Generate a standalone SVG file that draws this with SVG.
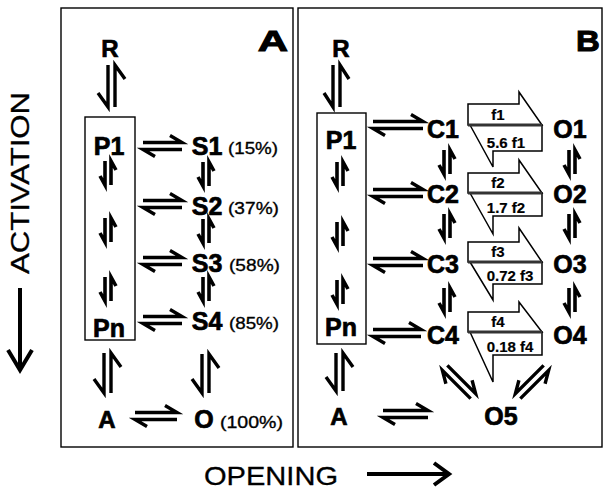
<svg xmlns="http://www.w3.org/2000/svg" width="604" height="493" viewBox="0 0 604 493">
<style>
text{font-family:"Liberation Sans",Arial,Helvetica,sans-serif;fill:#000}
.n{font-weight:bold;font-size:25px;text-anchor:middle;stroke:#000;stroke-width:0.7}
.r{font-weight:bold;font-size:24px;text-anchor:middle;stroke:#000;stroke-width:0.7}
.pct{font-size:17px;stroke:#000;stroke-width:0.35}
.lbl{font-weight:bold;font-size:30px;text-anchor:middle;stroke:#000;stroke-width:1}
.ax{font-size:26px;stroke:#000;stroke-width:0.3}
.rate{font-weight:bold;font-size:15px;text-anchor:middle;stroke:#000;stroke-width:0.2}
.frame{fill:none;stroke:#000;stroke-width:1.4}
.h{fill:none;stroke:#000;stroke-width:3.4}
.hs{fill:none;stroke:#000;stroke-width:3.6}
.blk{fill:#fff;stroke:#000;stroke-width:1.5;stroke-linejoin:miter}
.mid{fill:none;stroke:#333;stroke-width:3}
.ar{fill:none;stroke:#000;stroke-width:4}
</style>
<rect width="604" height="493" fill="#fff"/>

<g id="frames">
<rect class="frame" x="61" y="8" width="232" height="439"/>
<rect class="frame" x="298" y="8" width="304" height="439"/>
<text class="lbl" transform="translate(273 51) scale(1.4 1)">A</text>
<text class="lbl" transform="translate(588 51) scale(1.1 1)">B</text>
</g>

<g id="axes">
<text class="ax" transform="translate(29 274) rotate(-90)" textLength="182" lengthAdjust="spacingAndGlyphs">ACTIVATION</text>
<path class="ar" d="M20 288V369M8 350L20 370L32 350"/>
<text class="ax" x="204" y="485" textLength="134" lengthAdjust="spacingAndGlyphs">OPENING</text>
<path class="ar" d="M367 474H448M434 463L449 474L434 485"/>
</g>

<!-- Panel A nodes -->
<g id="A-R"><text class="r" x="110" y="57">R</text></g>
<g id="A-P">
<rect class="frame" x="85" y="117" width="50" height="223"/>
<text class="n" x="109" y="155">P1</text>
<text class="n" x="109" y="337">Pn</text>
</g>
<g id="A-S1"><text class="n" x="207" y="155">S1</text><text class="pct" x="228" y="154" textLength="50" lengthAdjust="spacingAndGlyphs">(15%)</text></g>
<g id="A-S2"><text class="n" x="207" y="215">S2</text><text class="pct" x="228" y="214" textLength="51" lengthAdjust="spacingAndGlyphs">(37%)</text></g>
<g id="A-S3"><text class="n" x="207" y="272">S3</text><text class="pct" x="229" y="271" textLength="51" lengthAdjust="spacingAndGlyphs">(58%)</text></g>
<g id="A-S4"><text class="n" x="207" y="330">S4</text><text class="pct" x="229" y="329" textLength="50" lengthAdjust="spacingAndGlyphs">(85%)</text></g>
<g id="A-A"><text class="r" x="107" y="428">A</text></g>
<g id="A-O"><text class="n" x="204" y="428">O</text><text class="pct" x="220" y="428" textLength="63" lengthAdjust="spacingAndGlyphs">(100%)</text></g>

<!-- Panel B nodes -->
<g id="B-R"><text class="r" x="341" y="57">R</text></g>
<g id="B-P">
<rect class="frame" x="317" y="113" width="49" height="231"/>
<text class="n" x="341" y="149">P1</text>
<text class="n" x="341" y="336">Pn</text>
</g>
<g id="B-C1"><text class="n" x="443" y="138">C1</text></g>
<g id="B-C2"><text class="n" x="443" y="203">C2</text></g>
<g id="B-C3"><text class="n" x="443" y="273">C3</text></g>
<g id="B-C4"><text class="n" x="443" y="344">C4</text></g>
<g id="B-O1"><text class="n" x="570" y="138">O1</text></g>
<g id="B-O2"><text class="n" x="570" y="203">O2</text></g>
<g id="B-O3"><text class="n" x="570" y="273">O3</text></g>
<g id="B-O4"><text class="n" x="570" y="344">O4</text></g>
<g id="B-A"><text class="r" x="339" y="425">A</text></g>
<g id="B-O5"><text class="n" x="501" y="425">O5</text></g>

<g id="connectors">
<!-- Panel A -->
<path class="h" d="M108 65V107L98 93M115 107V65L125 79"/>
<path class="h" d="M143 142.5H182L170 135.5M182 149.5H143L155 156.5"/>
<path class="h" d="M143 200.5H182L170 193.5M182 207.5H143L155 214.5"/>
<path class="h" d="M143 257.5H182L170 250.5M182 264.5H143L155 271.5"/>
<path class="h" d="M143 316.5H182L170 309.5M182 323.5H143L155 330.5"/>
<path class="hs" d="M105 161V185L100 176M111 185V161L116 170"/>
<path class="hs" d="M105 218V242L100 233M111 242V218L116 227"/>
<path class="hs" d="M105 277V301L100 292M111 301V277L116 286"/>
<path class="hs" d="M203 162V186L198 177M209 186V162L214 171"/>
<path class="hs" d="M203 219V243L198 234M209 243V219L214 228"/>
<path class="hs" d="M203 277V301L198 292M209 301V277L214 286"/>
<path class="h" d="M104 353V393L94 379M111 393V353L121 367"/>
<path class="h" d="M202 354V393L192 379M209 393V354L219 368"/>
<path class="h" d="M135 412.5H177L165 405.5M177 419.5H135L147 426.5"/>

<!-- Panel B -->
<path class="h" d="M333 65V107L324 93M340 107V65L349 79"/>
<path class="h" d="M373 121.5H423L411 114.5M423 128.5H373L385 135.5"/>
<path class="h" d="M373 189.5H423L411 182.5M423 196.5H373L385 203.5"/>
<path class="h" d="M373 258.5H423L411 251.5M423 265.5H373L385 272.5"/>
<path class="h" d="M373 329.5H421L409 322.5M421 336.5H373L385 343.5"/>
<path class="hs" d="M337 162V186L332 177M343 186V162L348 171"/>
<path class="hs" d="M337 222V246L332 237M343 246V222L348 231"/>
<path class="hs" d="M337 280V304L332 295M343 304V280L348 289"/>
<path class="hs" d="M444 150V174L439 165M450 174V150L455 159"/>
<path class="hs" d="M444 214V238L439 229M450 238V214L455 223"/>
<path class="hs" d="M444 288V312L439 303M450 312V288L455 297"/>
<path class="hs" d="M569 150V174L564 165M575 174V150L580 159"/>
<path class="hs" d="M569 214V238L564 229M575 238V214L580 223"/>
<path class="hs" d="M569 288V312L564 303M575 312V288L580 297"/>
<path class="h" d="M336 353V391L326 377M343 391V353L353 367"/>
<path class="h" d="M383 410.5H428L416 403.5M428 417.5H383L395 424.5"/>
<path class="h" transform="translate(459 382) rotate(45)" d="M-20 -3.5H20L8 -10.5M20 3.5H-20L-8 10.5"/>
<path class="h" transform="translate(532 382) scale(-1 1) rotate(45)" d="M-20 -3.5H20L8 -10.5M20 3.5H-20L-8 10.5"/>

<!-- rate arrows -->
<g id="k1">
<path class="blk" d="M468 125V104H519V92L542 125Z"/>
<path class="blk" d="M470 125L493 167V151H542V125Z"/>
<path class="mid" d="M468 125H542"/>
<text class="rate" x="498" y="120">f1</text>
<text class="rate" x="506" y="148">5.6 f1</text>
</g>
<g id="k2">
<path class="blk" d="M468 193V173H519V160L542 193Z"/>
<path class="blk" d="M470 193L493 234V216H542V193Z"/>
<path class="mid" d="M468 193H542"/>
<text class="rate" x="498" y="188">f2</text>
<text class="rate" x="506" y="213">1.7 f2</text>
</g>
<g id="k3">
<path class="blk" d="M468 262V242H519V228L542 262Z"/>
<path class="blk" d="M470 262L493 300V284H542V262Z"/>
<path class="mid" d="M468 262H542"/>
<text class="rate" x="498" y="257">f3</text>
<text class="rate" x="510" y="281">0.72 f3</text>
</g>
<g id="k4">
<path class="blk" d="M468 332V312H519V302L542 332Z"/>
<path class="blk" d="M470 332L493 382V355H542V332Z"/>
<path class="mid" d="M468 332H542"/>
<text class="rate" x="498" y="327">f4</text>
<text class="rate" x="510" y="352">0.18 f4</text>
</g>
</g>
</svg>
